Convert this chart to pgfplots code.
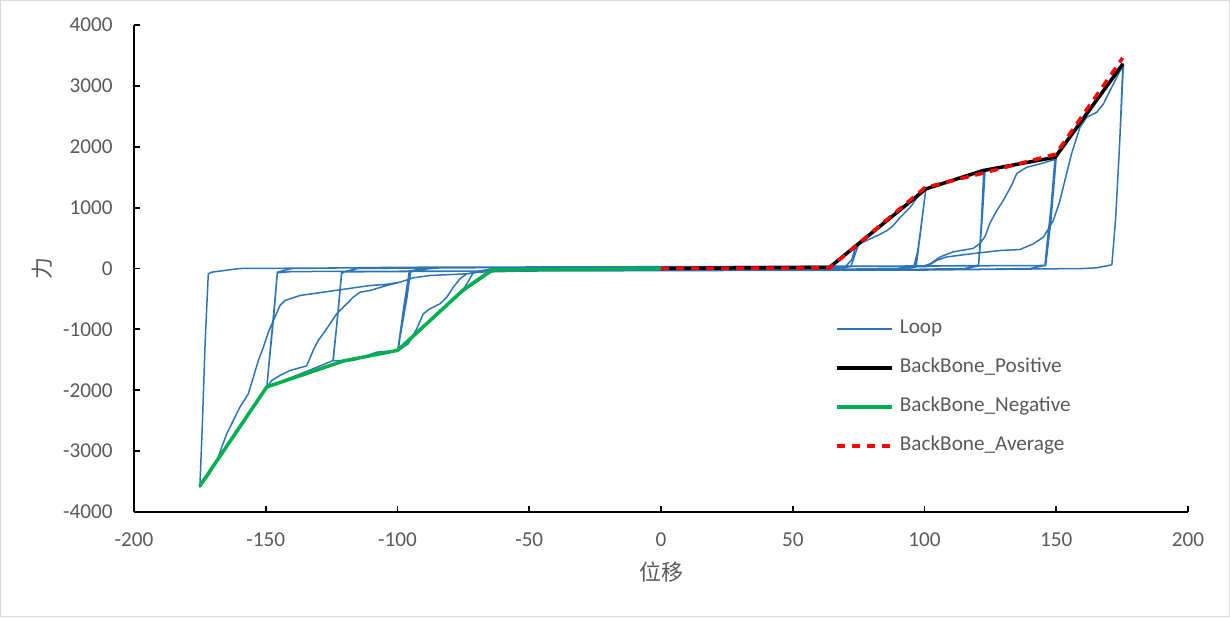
\documentclass[border=0pt]{standalone}
\usepackage{pgfplots}
\pgfplotsset{compat=1.18}
\usepackage{fontspec}
\setmainfont{Carlito}
\newfontfamily\cjk{Noto Sans CJK SC}
\definecolor{loopblue}{RGB}{46,117,182}
\definecolor{bbgreen}{RGB}{0,176,80}
\definecolor{txtgray}{RGB}{89,89,89}
\begin{document}
\begin{tikzpicture}
\useasboundingbox (-67pt,-52.5pt) rectangle (548pt,256pt);
\draw[black!15, line width=0.6pt] (-66.7pt,-52.2pt) rectangle (547.7pt,255.7pt);
\begin{axis}[
  at={(0pt,0pt)}, anchor=south west,
  scale only axis, width=527pt, height=243.5pt,
  xmin=-200, xmax=200, ymin=-4000, ymax=4000,
  axis lines*=left,
  axis line style={black, line width=0.9pt, -},
  tick align=inside, major tick length=3pt,
  tick style={black, line width=0.9pt},
  xtick={-200,-150,-100,-50,0,50,100,150,200},
  xticklabels={-200,-150,-100,-50,0,50,100,150,200},
  ytick={-4000,-3000,-2000,-1000,0,1000,2000,3000,4000},
  yticklabels={-4000,-3000,-2000,-1000,0,1000,2000,3000,4000},
  tick label style={font=\fontsize{10.6}{12}\selectfont, text=txtgray},
  xticklabel style={anchor=center, yshift=-14pt},
  yticklabel style={anchor=east, inner sep=0pt, xshift=-10.5pt},
  xlabel={\cjk 位移},
  ylabel={\cjk 力},
  every axis x label/.style={at={(axis description cs:0.5,-0.1232)}, anchor=center, font=\fontsize{11}{12}\selectfont, text=txtgray},
  every axis y label/.style={at={(axis description cs:-0.0873,0.5)}, anchor=center, rotate=90, font=\fontsize{11}{12}\selectfont, text=txtgray},
  legend cell align=left,
  legend style={at={(rel axis cs:0.6651,0.3952)}, anchor=north west, draw=none, fill=none,
    inner sep=0pt, outer sep=0pt, row sep=10pt, column sep=3.2pt,
    font=\fontsize{10.6}{12}\selectfont, text=txtgray,
    nodes={inner sep=0pt, text height=7pt, text depth=2.5pt}},
  legend image code/.code={\draw[#1] (0pt,0pt) -- (27.5pt,0pt);},
]
\addplot[loopblue, line width=0.75pt, line join=round] coordinates {
(0,0) (20,10) (50,15) (64,20) (70,220) (75,400) (73,150) (72,30) (68,10)
(40,-20) (0,-30) (-40,-35) (-64,-40) (-70,-180) (-76,-415) (-73,-200) (-71,-50)
(-60,10) (0,20) (40,25) (64,25) (80,590) (100.5,1308) (98.5,600) (96.5,30) (90,0)
(50,-20) (0,-30) (-50,-40) (-64,-45) (-76,-400) (-99.9,-1344) (-97.5,-600) (-95.3,-40) (-90,0)
(-80,15) (0,25) (60,30) (70,30) (72.5,150) (73.5,320) (76,420) (80.5,509) (83,560) (85.8,624)
(88,700) (90.7,837) (94.5,1000) (98.3,1231) (100.5,1308) (98.5,600) (96.8,25) (90,-5)
(40,-25) (0,-30) (-50,-40) (-70,-60) (-73.7,-87) (-76.3,-169) (-78.8,-307) (-81.3,-471)
(-83.9,-580) (-87.7,-662) (-90.2,-744) (-92.7,-990) (-95.9,-1237) (-99.7,-1346)
(-97.5,-600) (-95.5,-40) (-85,10) (0,25) (60,35) (96,40) (97.5,300) (99,800) (100.5,1300)
(111,1460) (123,1615) (122,900) (121,300) (120.5,40) (115,0)
(80,-25) (0,-30) (-60,-40) (-90,-45) (-95,-50) (-96.5,-500) (-98.5,-1000) (-99.9,-1344)
(-107.9,-1374) (-116.8,-1511) (-124.5,-1515) (-123,-900) (-121.2,-60) (-115,0)
(-60,20) (0,30) (100,40) (120.5,50) (121.5,700) (122.5,1600) (135,1720) (149.6,1828)
(148,1000) (146.5,400) (145.7,50) (140,0)
(100,-25) (0,-35) (-80,-45) (-120,-55) (-121.2,-80) (-122.5,-700) (-124.4,-1511)
(-135,-1700) (-149.6,-1949) (-148,-1200) (-146.5,-500) (-145.6,-60) (-140,0)
(-100,20) (0,30) (90,40) (100,45) (102.1,77) (105.9,190) (110.9,274) (118.5,330) (121.1,415)
(123,527) (124.9,752) (127.4,949) (129.9,1118) (133.1,1371) (135,1560) (138.8,1663)
(144,1720) (149.5,1790) (148,1000) (146.5,400) (145.7,50) (140,0)
(100,-25) (0,-35) (-60,-40) (-70,-55) (-73.7,-87) (-87.7,-115) (-94,-153) (-99,-224)
(-104.1,-279) (-110.4,-361) (-114.2,-389) (-116.8,-471) (-119.3,-580) (-123.1,-744)
(-125.6,-908) (-128.2,-1072) (-130.1,-1182) (-132,-1346) (-134.5,-1600) (-140.8,-1675)
(-144.6,-1757) (-147.7,-1839) (-149.6,-1949) (-148,-1200) (-146.5,-500) (-145.6,-60) (-140,0)
(-100,20) (0,30) (100,40) (146,50) (148,800) (150,1828) (162,2600) (175.3,3361)
(174,2000) (172.5,800) (171.1,60) (165,10) (160,0)
(100,-25) (0,-35) (-100,-45) (-140,-50) (-145.6,-70) (-147,-800) (-149.6,-1949)
(-162,-2760) (-175,-3580) (-174,-2500) (-173,-1200) (-171.8,-87) (-170.5,-60) (-160,0)
(-100,15) (0,25) (90,35) (100.8,30) (104.6,133) (108.4,190) (118.5,246) (128.7,296)
(136.2,312) (141.3,405) (145.1,514) (148.9,788) (151.4,1117) (153.9,1555) (155.8,1884)
(159,2320) (161.6,2485) (165.4,2567) (167.9,2705) (170.4,2923) (173,3141) (175.5,3361)
(174,2000) (172.5,800) (171.1,60) (165,10) (160,0)
(100,-25) (0,-35) (-65,-40) (-73.7,-87) (-87.7,-115) (-94,-153) (-99,-224) (-104.1,-260)
(-110.4,-279) (-128.2,-389) (-137,-443) (-142.7,-525) (-144.6,-608) (-147.1,-854)
(-149,-1045) (-150.9,-1292) (-152.8,-1511) (-154.7,-1784) (-156.6,-2058) (-159.8,-2277)
(-162.3,-2496) (-164.8,-2715) (-166.7,-2934) (-168,-3098) (-171,-3350) (-175,-3590)
(-174,-2500) (-173,-1200) (-171.8,-87) (-170.5,-60) (-160,0) (-100,15) (0,20)
};
\addlegendentry{Loop}
\addplot[black, line width=1.75pt, line join=round] coordinates {
(0,0) (64,20) (100.5,1308) (122.2,1609) (149.6,1828) (175.3,3361)
};
\addlegendentry{BackBone\_Positive}
\addplot[bbgreen, line width=1.75pt, line join=round] coordinates {
(0,0) (-64,-20) (-75,-350) (-99.9,-1344) (-120.5,-1519) (-149.6,-1945) (-175.1,-3579)
};
\addlegendentry{BackBone\_Negative}
\addplot[red, line width=1.75pt, dash pattern=on 4.2pt off 3.3pt] coordinates {
(0,0) (64,10) (100.2,1330) (122,1565) (149.8,1880) (175.2,3460)
};
\addlegendentry{BackBone\_Average}
\end{axis}
\end{tikzpicture}
\end{document}
